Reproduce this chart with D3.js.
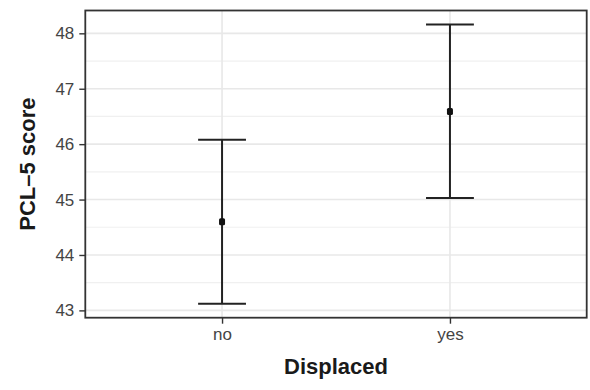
<!DOCTYPE html>
<html>
<head>
<meta charset="utf-8">
<script src="https://cdn.jsdelivr.net/npm/d3@7"></script>
<style>
  html, body { margin: 0; padding: 0; background: #ffffff; }
  svg { display: block; }
  text { font-family: "Liberation Sans", Arial, Helvetica, sans-serif; }
</style>
</head>
<body>
<svg id="chart" width="590" height="390"></svg>
<script>
// Mean PCL-5 score with 95% confidence interval, by displacement status
const categories = ["no", "yes"];
const means = [44.60, 46.59];
const lowers = [43.12, 45.03];
const uppers = [46.08, 48.16];
const yTicks = [43, 44, 45, 46, 47, 48];
const yMinorTicks = [43.5, 44.5, 45.5, 46.5, 47.5];

const W = 590, H = 390;
const margin = { top: 10.5, right: 3.3, bottom: 72.3, left: 85.3 };
const pw = W - margin.left - margin.right;
const ph = H - margin.top - margin.bottom;

const svg = d3.select("#chart");
const g = svg.append("g").attr("transform", `translate(${margin.left},${margin.top})`);

// y range padded by 5% on each side of the interval extent
const lo = d3.min(lowers), hi = d3.max(uppers);
const pad = (hi - lo) * 0.05;
const y = d3.scaleLinear().domain([lo - pad, hi + pad]).range([ph, 0]);
const x = d3.scalePoint().domain(categories).range([0, pw]).padding(0.6);

// panel background
g.append("rect").attr("width", pw).attr("height", ph).attr("fill", "#ffffff");

// grid lines
const grid = g.append("g");
grid.selectAll(".minor").data(yMinorTicks).join("line")
  .attr("x1", 0).attr("x2", pw)
  .attr("y1", d => y(d)).attr("y2", d => y(d))
  .attr("stroke", "#f0f0f0").attr("stroke-width", 1.2);
grid.selectAll(".major").data(yTicks).join("line")
  .attr("x1", 0).attr("x2", pw)
  .attr("y1", d => y(d)).attr("y2", d => y(d))
  .attr("stroke", "#e8e8e8").attr("stroke-width", 1.6);
grid.selectAll(".vmajor").data(categories).join("line")
  .attr("x1", d => x(d)).attr("x2", d => x(d))
  .attr("y1", 0).attr("y2", ph)
  .attr("stroke", "#e8e8e8").attr("stroke-width", 1.6);

// error bars
const capHalf = x.step() * 0.105;
const bars = g.append("g").selectAll("g").data(categories).join("g");
bars.append("line")
  .attr("x1", d => x(d)).attr("x2", d => x(d))
  .attr("y1", (d, i) => y(lowers[i])).attr("y2", (d, i) => y(uppers[i]))
  .attr("stroke", "#222").attr("stroke-width", 2);
bars.append("line")
  .attr("x1", d => x(d) - capHalf).attr("x2", d => x(d) + capHalf)
  .attr("y1", (d, i) => y(uppers[i])).attr("y2", (d, i) => y(uppers[i]))
  .attr("stroke", "#222").attr("stroke-width", 2);
bars.append("line")
  .attr("x1", d => x(d) - capHalf).attr("x2", d => x(d) + capHalf)
  .attr("y1", (d, i) => y(lowers[i])).attr("y2", (d, i) => y(lowers[i]))
  .attr("stroke", "#222").attr("stroke-width", 2);
bars.append("rect")
  .attr("x", d => x(d) - 3).attr("y", (d, i) => y(means[i]) - 3.5)
  .attr("width", 6).attr("height", 7).attr("rx", 1.5).attr("fill", "#111");

// axes
const yAxis = g.append("g").call(d3.axisLeft(y).tickValues(yTicks).tickSize(6).tickPadding(5).tickFormat(d3.format("d")));
const xAxis = g.append("g").attr("transform", `translate(0,${ph})`)
  .call(d3.axisBottom(x).tickSize(6).tickPadding(4));
[yAxis, xAxis].forEach(a => {
  a.select(".domain").remove();
  a.selectAll(".tick line").attr("stroke", "#333").attr("stroke-width", 1.4);
  a.selectAll(".tick text").attr("fill", "#444").style("font-size", "17px")
    .style("font-family", "'Liberation Sans', Arial, sans-serif");
});

// panel border
g.append("rect").attr("width", pw).attr("height", ph)
  .attr("fill", "none").attr("stroke", "#333").attr("stroke-width", 1.8);

// axis titles
svg.append("text")
  .attr("x", margin.left + pw / 2).attr("y", 374)
  .attr("text-anchor", "middle")
  .style("font-size", "22px").style("font-weight", "bold").attr("fill", "#1a1a1a")
  .text("Displaced");
svg.append("text")
  .attr("transform", `translate(35,${margin.top + ph / 2}) rotate(-90)`)
  .attr("text-anchor", "middle")
  .style("font-size", "22px").style("font-weight", "bold").attr("fill", "#1a1a1a")
  .text("PCL\u20135 score");
</script>
</body>
</html>
